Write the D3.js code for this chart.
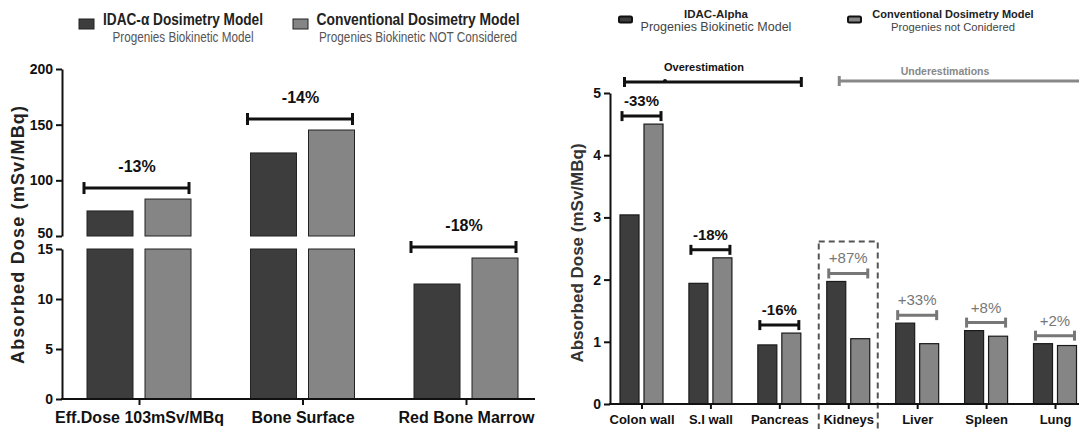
<!DOCTYPE html>
<html>
<head>
<meta charset="utf-8">
<script src="https://cdn.jsdelivr.net/npm/d3@7"></script>
<style>
  body { margin: 0; background: #fff; }
  svg { display: block; }
  svg text { font-family: "Liberation Sans", Arial, sans-serif; }
  .tick line, .domain { stroke: #111; stroke-width: 2; }
</style>
</head>
<body>
<div id="chart"></div>
<script>
// ---- data ----
const leftCats = ["Eff.Dose 103mSv/MBq", "Bone Surface", "Red Bone Marrow"];
const leftIdac = [72.5, 124.6, 11.5];
const leftConv = [83.2, 145.2, 14.1];
const leftPct = ["-13%", "-14%", "-18%"];
const leftLowTicks = [0, 5, 10, 15];
const leftHighTicks = [50, 100, 150, 200];

const rightCats = ["Colon wall", "S.I wall", "Pancreas", "Kidneys", "Liver", "Spleen", "Lung"];
const rightIdac = [3.04, 1.94, 0.95, 1.97, 1.30, 1.18, 0.97];
const rightConv = [4.50, 2.35, 1.14, 1.05, 0.97, 1.09, 0.94];
const rightPct = ["-33%", "-18%", "-16%", "+87%", "+33%", "+8%", "+2%"];
const rightTicks = [0, 1, 2, 3, 4, 5];

const series = ["idac", "conv"];
const darkCol = "#3d3d3d";
const lightCol = "#858585";

var width = 1079
var height = 429

var svg = d3.select("#chart").append("svg")
    .attr("width", width)
    .attr("height", height)

// bracket: horizontal line with end caps
const bracket = (g, x0, x1, y, col, cap, sw) => {
    g.append("line").attr("x1", x0).attr("x2", x1).attr("y1", y).attr("y2", y)
        .attr("stroke", col).attr("stroke-width", sw);
    [x0, x1].forEach(x => g.append("line")
        .attr("x1", x).attr("x2", x).attr("y1", y - cap / 2).attr("y2", y + cap / 2)
        .attr("stroke", col).attr("stroke-width", sw));
}

const styleTicks = (axisG, size) => {
    axisG.selectAll("text")
        .style("font-size", size + "px")
        .style("font-weight", "bold")
        .style("fill", "#111");
}

const renderLeft = () => {
    const g = svg.append("g");

    const xScale = d3.scalePoint().domain(leftCats).range([139, 466]);
    const xSub = d3.scaleBand().domain(series).range([-52, 52]).paddingInner(0.207);
    const yLow = d3.scaleLinear().domain([0, 15]).range([399, 249]);
    const yHigh = d3.scaleLinear().domain([50, 200]).range([236, 69]);

    const rows = leftCats.map((c, i) => ({cat: c, idac: leftIdac[i], conv: leftConv[i], pct: leftPct[i]}));

    rows.forEach(d => {
        series.forEach(s => {
            const v = d[s];
            const x = xScale(d.cat) + xSub(s);
            const col = s === "idac" ? darkCol : lightCol;
            g.append("rect")
                .attr("x", x).attr("width", xSub.bandwidth())
                .attr("y", yLow(Math.min(v, 15)))
                .attr("height", yLow(0) - yLow(Math.min(v, 15)))
                .attr("fill", col).attr("stroke", "#222").attr("stroke-width", 1);
            if (v > 50) {
                g.append("rect")
                    .attr("x", x).attr("width", xSub.bandwidth())
                    .attr("y", yHigh(v))
                    .attr("height", yHigh(50) - yHigh(v))
                    .attr("fill", col).attr("stroke", "#222").attr("stroke-width", 1);
            }
        });
        // percent bracket above the taller bar
        const top = Math.max(d.idac, d.conv);
        const yb = (top > 50 ? yHigh(top) : yLow(top)) - 11;
        const cx = xScale(d.cat);
        bracket(g, cx - 55, cx + 50, yb, "#111", 12, 3);
        g.append("text")
            .attr("x", cx - 2).attr("y", yb - 16)
            .attr("text-anchor", "middle")
            .style("font-size", "16px").style("font-weight", "bold")
            .attr("fill", "#111")
            .text(d.pct);
    });

    const yAxisLow = d3.axisLeft(yLow).tickValues(leftLowTicks).tickSize(6).tickSizeOuter(0);
    const yAxisHigh = d3.axisLeft(yHigh).tickValues(leftHighTicks).tickSize(6).tickSizeOuter(0);
    styleTicks(g.append("g").attr("transform", "translate(62,0)").call(yAxisLow), 14);
    const hiG = g.append("g").attr("transform", "translate(62,0)").call(yAxisHigh);
    styleTicks(hiG, 14);
    hiG.selectAll(".tick text").filter(d => d === 50).attr("dy", "0.1em");

    // x axis
    g.append("line").attr("x1", 61).attr("x2", 535).attr("y1", 399).attr("y2", 399)
        .attr("stroke", "#111").attr("stroke-width", 2);
    const xAxisG = g.append("g").attr("transform", "translate(0,399)")
        .call(d3.axisBottom(xScale).tickSize(6).tickSizeOuter(0));
    xAxisG.select(".domain").remove();
    styleTicks(xAxisG, 16);
    xAxisG.selectAll("text").attr("dy", "0.95em");

    g.append("text")
        .attr("transform", "translate(24,235) rotate(-90)")
        .attr("text-anchor", "middle")
        .style("font-size", "18px").style("font-weight", "bold").attr("fill", "#222")
        .attr("textLength", 258).attr("lengthAdjust", "spacing")
        .text("Absorbed Dose (mSv/MBq)");

    // legend (condensed type in the original, squeezed to its width)
    const leg = [
        {x: 79, col: darkCol, t1: "IDAC-\u03b1 Dosimetry Model", t2: "Progenies Biokinetic Model", cx: 183, w1: 160, w2: 141},
        {x: 293, col: lightCol, t1: "Conventional Dosimetry Model", t2: "Progenies Biokinetic NOT Considered", cx: 418, w1: 203, w2: 198}
    ];
    leg.forEach(l => {
        g.append("rect").attr("x", l.x).attr("y", 19).attr("width", 15).attr("height", 10)
            .attr("fill", l.col).attr("stroke", "#222").attr("stroke-width", 1);
        g.append("text").attr("x", l.cx).attr("y", 25)
            .attr("text-anchor", "middle")
            .style("font-size", "16px").style("font-weight", "bold")
            .attr("textLength", l.w1).attr("lengthAdjust", "spacingAndGlyphs")
            .attr("fill", "#222").text(l.t1);
        g.append("text").attr("x", l.cx).attr("y", 42)
            .attr("text-anchor", "middle").style("font-size", "14px")
            .attr("textLength", l.w2).attr("lengthAdjust", "spacingAndGlyphs")
            .attr("fill", "#555").text(l.t2);
    });
}

const renderRight = () => {
    const g = svg.append("g");

    const xScale = d3.scalePoint().domain(rightCats).range([641.5, 1055]);
    const xSub = d3.scaleBand().domain(series).range([-21.5, 21.5]).paddingInner(0.208);
    const yScale = d3.scaleLinear().domain([0, 5]).range([404, 93]);

    const rows = rightCats.map((c, i) => ({cat: c, idac: rightIdac[i], conv: rightConv[i], pct: rightPct[i]}));

    // dashed box around Kidneys
    const kx = xScale("Kidneys");
    g.append("rect")
        .attr("x", kx - 29.5).attr("width", 59)
        .attr("y", yScale(rightIdac[3]) - 40).attr("height", 200)
        .attr("fill", "none").attr("stroke", "#555").attr("stroke-width", 2)
        .attr("stroke-dasharray", "6,4");

    rows.forEach(d => {
        series.forEach(s => {
            g.append("rect")
                .attr("x", xScale(d.cat) + xSub(s)).attr("width", xSub.bandwidth())
                .attr("y", yScale(d[s]))
                .attr("height", yScale(0) - yScale(d[s]))
                .attr("fill", s === "idac" ? darkCol : lightCol)
                .attr("stroke", "#1a1a1a").attr("stroke-width", 1.2);
        });
        const neg = d.pct[0] === "-";
        const col = neg ? "#111" : "#777";
        const yb = yScale(Math.max(d.idac, d.conv)) - 8;
        const cx = xScale(d.cat);
        bracket(g, cx - 19.5, cx + 19.5, yb, col, 10, 3);
        g.append("text")
            .attr("x", cx).attr("y", yb - 10)
            .attr("text-anchor", "middle")
            .style("font-size", "15px").style("font-weight", neg ? "bold" : "normal")
            .attr("fill", col)
            .text(d.pct);
    });

    const yAxis = d3.axisLeft(yScale).tickValues(rightTicks).tickFormat(d3.format("d"))
        .tickSize(6).tickSizeOuter(0);
    styleTicks(g.append("g").attr("transform", "translate(610,0)").call(yAxis), 14);

    g.append("line").attr("x1", 609).attr("x2", 1079).attr("y1", 404).attr("y2", 404)
        .attr("stroke", "#111").attr("stroke-width", 2);
    const xAxisG = g.append("g").attr("transform", "translate(0,404)")
        .call(d3.axisBottom(xScale).tickSize(5).tickSizeOuter(0));
    xAxisG.select(".domain").remove();
    styleTicks(xAxisG, 13);
    xAxisG.selectAll("text").attr("dy", "0.95em");

    g.append("text")
        .attr("transform", "translate(583,253) rotate(-90)")
        .attr("text-anchor", "middle")
        .style("font-size", "17px").style("font-weight", "bold").attr("fill", "#333")
        .text("Absorbed Dose (mSv/MBq)");

    // over / under estimation ranges
    bracket(g, xScale("Colon wall") - 17, xScale("Pancreas") + 22, 82, "#111", 10, 3);
    g.append("circle").attr("cx", 665).attr("cy", 81).attr("r", 2).attr("fill", "#111");
    g.append("text").attr("x", 704).attr("y", 71).attr("text-anchor", "middle")
        .style("font-size", "11px").style("font-weight", "bold").attr("fill", "#111")
        .text("Overestimation");
    g.append("line").attr("x1", xScale("Kidneys") - 9).attr("x2", 1085).attr("y1", 81).attr("y2", 81)
        .attr("stroke", "#888").attr("stroke-width", 3);
    g.append("line").attr("x1", xScale("Kidneys") - 9).attr("x2", xScale("Kidneys") - 9)
        .attr("y1", 76).attr("y2", 86).attr("stroke", "#888").attr("stroke-width", 3);
    g.append("text").attr("x", 945).attr("y", 75).attr("text-anchor", "middle")
        .style("font-size", "10.5px").style("font-weight", "bold").attr("fill", "#888")
        .text("Underestimations");

    // legend
    const leg = [
        {x: 619, col: darkCol, t1: "IDAC-Alpha", t2: "Progenies Biokinetic Model", cx: 716, f1: 11.5, f2: 12.5},
        {x: 848, col: lightCol, t1: "Conventional Dosimetry Model", t2: "Progenies not Conidered", cx: 953, f1: 11, f2: 11.2}
    ];
    leg.forEach(l => {
        g.append("rect").attr("x", l.x).attr("y", 16.5).attr("width", 13).attr("height", 6).attr("rx", 1.5)
            .attr("fill", l.col).attr("stroke", "#111").attr("stroke-width", 2);
        g.append("text").attr("x", l.cx).attr("y", 18)
            .attr("text-anchor", "middle").style("font-size", l.f1 + "px").style("font-weight", "bold")
            .attr("fill", "#222").text(l.t1);
        g.append("text").attr("x", l.cx).attr("y", 31)
            .attr("text-anchor", "middle").style("font-size", l.f2 + "px")
            .attr("fill", "#444").text(l.t2);
    });
}

renderLeft();
renderRight();
</script>
</body>
</html>
